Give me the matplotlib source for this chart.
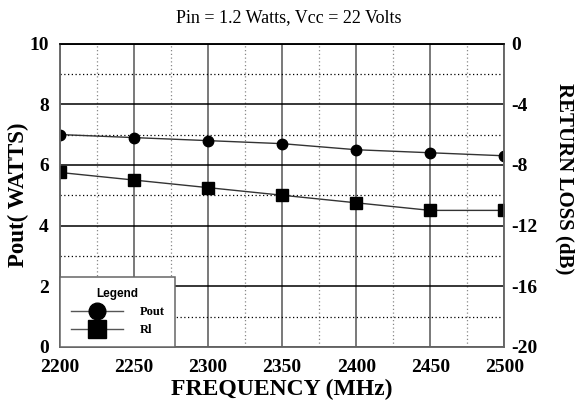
import matplotlib.pyplot as plt
from matplotlib.ticker import MultipleLocator

# data
freq = [2200, 2250, 2300, 2350, 2400, 2450, 2500]
pout = [7.0, 6.9, 6.8, 6.7, 6.5, 6.4, 6.3]
rl = [-8.5, -9.0, -9.5, -10.0, -10.5, -11.0, -11.0]

plt.rcParams['font.family'] = 'Liberation Serif'
plt.rcParams['font.weight'] = 'bold'
plt.rcParams['axes.unicode_minus'] = False

fig = plt.figure(figsize=(5.77, 4.11), dpi=100)
ax1 = fig.add_axes([0.104, 0.156, 0.77, 0.738])
ax2 = ax1.twinx()

ax1.set_xlim(2200, 2500)
ax1.set_ylim(0, 10)
ax2.set_ylim(-20, 0)

ax1.xaxis.set_major_locator(MultipleLocator(50))
ax1.xaxis.set_minor_locator(MultipleLocator(25))
ax1.yaxis.set_major_locator(MultipleLocator(2))
ax1.yaxis.set_minor_locator(MultipleLocator(1))
ax2.yaxis.set_major_locator(MultipleLocator(4))

# grid
ax1.grid(which='major', axis='y', color='black', lw=1.1, ls='-')
ax1.grid(which='minor', axis='y', color='black', lw=0.9, ls=(0, (1, 2)))
ax1.grid(which='major', axis='x', color='#555555', lw=1.1, ls='-')
ax1.grid(which='minor', axis='x', color='#888888', lw=0.9, ls=(0, (1, 2)))
ax1.set_axisbelow(True)

for ax in (ax1, ax2):
    ax.tick_params(which='both', length=0, labelsize=14)
    for s in ax.spines.values():
        s.set_color('#666666')
        s.set_linewidth(1.1)
    ax.spines['top'].set_color('black')

ax1.tick_params(axis='x', pad=9)
ax1.tick_params(axis='y', pad=8)
ax2.tick_params(axis='y', pad=5)

h1, = ax1.plot(freq, pout, color='#333333', lw=1, marker='o', ms=7.5,
               mfc='black', mec='black', label='Pout')
h2, = ax2.plot(freq, rl, color='#333333', lw=1, marker='s', ms=8,
               mfc='black', mec='black', label='Rl')

ax1.set_xlabel('FREQUENCY (MHz)', fontsize=17, fontweight='bold', labelpad=2)
ax1.set_ylabel('Pout( WATTS)', fontsize=16.5, fontweight='bold', labelpad=0)
ax2.set_ylabel('RETURN LOSS (dB)', fontsize=15, fontweight='bold',
               rotation=-90, va='center')
ax2.yaxis.set_label_coords(1.135, 0.556)

fig.suptitle('Pin = 1.2 Watts, Vcc = 22 Volts', fontweight='normal',
             fontsize=13, x=0.5, y=0.978)

leg = ax2.legend(handles=[h1, h2], loc='lower left', bbox_to_anchor=(0, 0),
                 borderaxespad=0, title='Legend', fancybox=False,
                 edgecolor='#666666', framealpha=1, handlelength=4.2,
                 markerscale=1.6, borderpad=0.85, labelspacing=0.5,
                 handletextpad=1.3, prop={'weight': 'bold', 'size': 9})
leg.get_title().set_fontfamily('Liberation Sans')
leg.get_title().set_fontweight('bold')
leg.get_title().set_fontsize(8.5)
leg.get_frame().set_linewidth(1.1)
for line in leg.get_lines():
    line.set_color('#555555')

fig.savefig('out.png', dpi=100)
